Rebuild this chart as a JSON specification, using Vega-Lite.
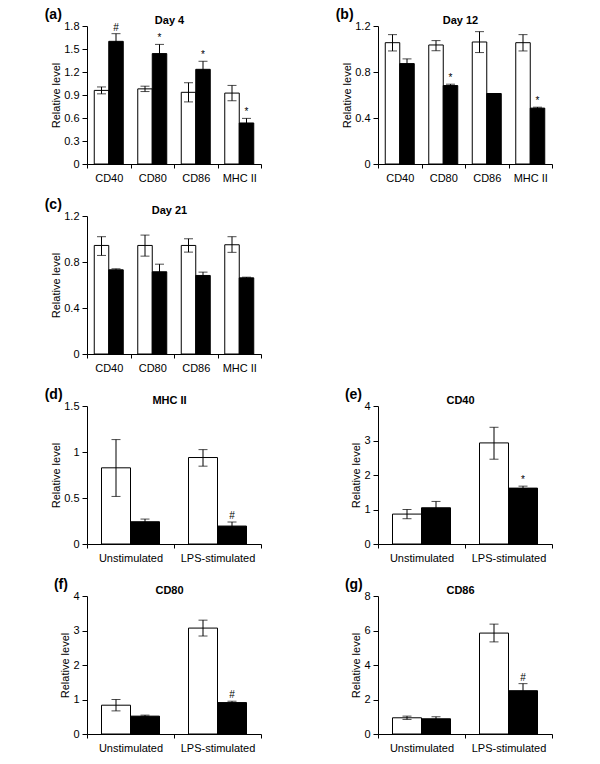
{
  "$schema": "https://vega.github.io/schema/vega-lite/v6.json",
  "padding": {"left": 44, "top": 8, "right": 5, "bottom": 5},
  "autosize": {"type": "pad"},
  "bounds": "flush",
  "columns": 2,
  "spacing": {"row": 52, "column": 117},
  "resolve": {"scale": {"xOffset": "independent"}},
  "data": {"values": [
    {"panel": "a", "cat": "CD40", "grp": "ctrl", "value": 0.96, "lo": 0.915, "hi": 1.005, "sig": ""},
    {"panel": "a", "cat": "CD40", "grp": "trt", "value": 1.6, "lo": 1.5, "hi": 1.7, "sig": "#"},
    {"panel": "a", "cat": "CD80", "grp": "ctrl", "value": 0.98, "lo": 0.945, "hi": 1.015, "sig": ""},
    {"panel": "a", "cat": "CD80", "grp": "trt", "value": 1.44, "lo": 1.32, "hi": 1.56, "sig": "*"},
    {"panel": "a", "cat": "CD86", "grp": "ctrl", "value": 0.935, "lo": 0.81, "hi": 1.06, "sig": ""},
    {"panel": "a", "cat": "CD86", "grp": "trt", "value": 1.235, "lo": 1.135, "hi": 1.34, "sig": "*"},
    {"panel": "a", "cat": "MHC II", "grp": "ctrl", "value": 0.925, "lo": 0.825, "hi": 1.025, "sig": ""},
    {"panel": "a", "cat": "MHC II", "grp": "trt", "value": 0.535, "lo": 0.475, "hi": 0.595, "sig": "*"},

    {"panel": "b", "cat": "CD40", "grp": "ctrl", "value": 1.055, "lo": 0.983, "hi": 1.125, "sig": ""},
    {"panel": "b", "cat": "CD40", "grp": "trt", "value": 0.873, "lo": 0.835, "hi": 0.914, "sig": ""},
    {"panel": "b", "cat": "CD80", "grp": "ctrl", "value": 1.035, "lo": 0.985, "hi": 1.073, "sig": ""},
    {"panel": "b", "cat": "CD80", "grp": "trt", "value": 0.682, "lo": 0.67, "hi": 0.694, "sig": "*"},
    {"panel": "b", "cat": "CD86", "grp": "ctrl", "value": 1.061, "lo": 0.969, "hi": 1.151, "sig": ""},
    {"panel": "b", "cat": "CD86", "grp": "trt", "value": 0.613, "lo": 0.613, "hi": 0.613, "sig": ""},
    {"panel": "b", "cat": "MHC II", "grp": "ctrl", "value": 1.055, "lo": 0.983, "hi": 1.125, "sig": ""},
    {"panel": "b", "cat": "MHC II", "grp": "trt", "value": 0.486, "lo": 0.478, "hi": 0.494, "sig": "*"},

    {"panel": "c", "cat": "CD40", "grp": "ctrl", "value": 0.944, "lo": 0.857, "hi": 1.02, "sig": ""},
    {"panel": "c", "cat": "CD40", "grp": "trt", "value": 0.732, "lo": 0.723, "hi": 0.741, "sig": ""},
    {"panel": "c", "cat": "CD80", "grp": "ctrl", "value": 0.944, "lo": 0.851, "hi": 1.034, "sig": ""},
    {"panel": "c", "cat": "CD80", "grp": "trt", "value": 0.715, "lo": 0.65, "hi": 0.781, "sig": ""},
    {"panel": "c", "cat": "CD86", "grp": "ctrl", "value": 0.944, "lo": 0.886, "hi": 1.002, "sig": ""},
    {"panel": "c", "cat": "CD86", "grp": "trt", "value": 0.683, "lo": 0.654, "hi": 0.712, "sig": ""},
    {"panel": "c", "cat": "MHC II", "grp": "ctrl", "value": 0.95, "lo": 0.884, "hi": 1.02, "sig": ""},
    {"panel": "c", "cat": "MHC II", "grp": "trt", "value": 0.662, "lo": 0.656, "hi": 0.668, "sig": ""},

    {"panel": "d", "cat": "Unstimulated", "grp": "ctrl", "value": 0.828, "lo": 0.517, "hi": 1.135, "sig": ""},
    {"panel": "d", "cat": "Unstimulated", "grp": "trt", "value": 0.242, "lo": 0.213, "hi": 0.271, "sig": ""},
    {"panel": "d", "cat": "LPS-stimulated", "grp": "ctrl", "value": 0.94, "lo": 0.846, "hi": 1.026, "sig": ""},
    {"panel": "d", "cat": "LPS-stimulated", "grp": "trt", "value": 0.195, "lo": 0.151, "hi": 0.239, "sig": "#"},

    {"panel": "e", "cat": "Unstimulated", "grp": "ctrl", "value": 0.867, "lo": 0.733, "hi": 1.0, "sig": ""},
    {"panel": "e", "cat": "Unstimulated", "grp": "trt", "value": 1.05, "lo": 0.87, "hi": 1.234, "sig": ""},
    {"panel": "e", "cat": "LPS-stimulated", "grp": "ctrl", "value": 2.93, "lo": 2.458, "hi": 3.383, "sig": ""},
    {"panel": "e", "cat": "LPS-stimulated", "grp": "trt", "value": 1.62, "lo": 1.563, "hi": 1.677, "sig": "*"},

    {"panel": "f", "cat": "Unstimulated", "grp": "ctrl", "value": 0.835, "lo": 0.67, "hi": 1.0, "sig": ""},
    {"panel": "f", "cat": "Unstimulated", "grp": "trt", "value": 0.518, "lo": 0.489, "hi": 0.547, "sig": ""},
    {"panel": "f", "cat": "LPS-stimulated", "grp": "ctrl", "value": 3.07, "lo": 2.84, "hi": 3.3, "sig": ""},
    {"panel": "f", "cat": "LPS-stimulated", "grp": "trt", "value": 0.911, "lo": 0.872, "hi": 0.95, "sig": "#"},

    {"panel": "g", "cat": "Unstimulated", "grp": "ctrl", "value": 0.94, "lo": 0.845, "hi": 1.036, "sig": ""},
    {"panel": "g", "cat": "Unstimulated", "grp": "trt", "value": 0.883, "lo": 0.77, "hi": 1.0, "sig": ""},
    {"panel": "g", "cat": "LPS-stimulated", "grp": "ctrl", "value": 5.85, "lo": 5.34, "hi": 6.37, "sig": ""},
    {"panel": "g", "cat": "LPS-stimulated", "grp": "trt", "value": 2.51, "lo": 2.12, "hi": 2.92, "sig": "#"}
  ]},
  "concat": [
    {
      "title": {"text": "(a)"},
      "width": 174, "height": 138,
      "resolve": {"axis": {"x": "independent"}},
      "transform": [{"filter": "datum.panel === 'a'"}],
      "encoding": {
        "x": {"field": "cat", "type": "nominal", "scale": {"domain": ["CD40", "CD80", "CD86", "MHC II"], "paddingInner": 0, "paddingOuter": 0}, "axis": null},
        "xOffset": {"field": "grp", "type": "nominal", "scale": {"domain": ["ctrl", "trt"], "range": [0, 43.5], "paddingInner": 0, "paddingOuter": 0.5}}
      },
      "layer": [
        {"mark": {"type": "bar", "stroke": "black", "strokeWidth": 1},
         "encoding": {
           "x": {"field": "cat", "type": "nominal", "scale": {"domain": ["CD40", "CD80", "CD86", "MHC II"], "paddingInner": 0, "paddingOuter": 0}, "axis": {"orient": "bottom", "title": null, "tickBand": "extent", "labelAngle": 0}},
           "y": {"field": "value", "type": "quantitative", "scale": {"domain": [0, 1.8]}, "axis": {"title": "Relative level", "values": [0, 0.3, 0.6, 0.9, 1.2, 1.5, 1.8], "labelExpr": "toString(datum.value)"}},
           "fill": {"field": "grp", "type": "nominal", "scale": {"domain": ["ctrl", "trt"], "range": ["white", "black"]}, "legend": null}}},
        {"mark": {"type": "rule", "color": "black", "strokeWidth": 1},
         "encoding": {
           "x": {"field": "cat", "type": "nominal", "scale": {"domain": ["CD40", "CD80", "CD86", "MHC II"], "paddingInner": 0, "paddingOuter": 0}, "axis": {"orient": "top", "title": "Day 4", "labels": false, "ticks": false, "domain": false, "titleFontWeight": "bold", "titlePadding": 1, "titleX": 82}},
           "y": {"field": "lo", "type": "quantitative", "scale": {"domain": [0, 1.8]}, "axis": {"title": "Relative level", "values": [0, 0.3, 0.6, 0.9, 1.2, 1.5, 1.8], "labelExpr": "toString(datum.value)"}},
           "y2": {"field": "hi"}}},
        {"mark": {"type": "tick", "color": "black", "size": 9, "thickness": 1},
         "encoding": {"y": {"field": "hi", "type": "quantitative", "scale": {"domain": [0, 1.8]}, "axis": {"title": "Relative level", "values": [0, 0.3, 0.6, 0.9, 1.2, 1.5, 1.8], "labelExpr": "toString(datum.value)"}}}},
        {"mark": {"type": "tick", "color": "black", "size": 9, "thickness": 1},
         "encoding": {"y": {"field": "lo", "type": "quantitative", "scale": {"domain": [0, 1.8]}, "axis": {"title": "Relative level", "values": [0, 0.3, 0.6, 0.9, 1.2, 1.5, 1.8], "labelExpr": "toString(datum.value)"}}}},
        {"mark": {"type": "text", "dy": -3, "baseline": "alphabetic", "fontSize": 10, "color": "black", "fill": "black"},
         "encoding": {"y": {"field": "hi", "type": "quantitative", "scale": {"domain": [0, 1.8]}, "axis": {"title": "Relative level", "values": [0, 0.3, 0.6, 0.9, 1.2, 1.5, 1.8], "labelExpr": "toString(datum.value)"}}, "text": {"field": "sig"}}}
      ]
    },
    {
      "title": {"text": "(b)"},
      "width": 174, "height": 138,
      "resolve": {"axis": {"x": "independent"}},
      "transform": [{"filter": "datum.panel === 'b'"}],
      "encoding": {
        "x": {"field": "cat", "type": "nominal", "scale": {"domain": ["CD40", "CD80", "CD86", "MHC II"], "paddingInner": 0, "paddingOuter": 0}, "axis": null},
        "xOffset": {"field": "grp", "type": "nominal", "scale": {"domain": ["ctrl", "trt"], "range": [0, 43.5], "paddingInner": 0, "paddingOuter": 0.5}}
      },
      "layer": [
        {"mark": {"type": "bar", "stroke": "black", "strokeWidth": 1},
         "encoding": {
           "x": {"field": "cat", "type": "nominal", "scale": {"domain": ["CD40", "CD80", "CD86", "MHC II"], "paddingInner": 0, "paddingOuter": 0}, "axis": {"orient": "bottom", "title": null, "tickBand": "extent", "labelAngle": 0}},
           "y": {"field": "value", "type": "quantitative", "scale": {"domain": [0, 1.2]}, "axis": {"title": "Relative level", "values": [0, 0.4, 0.8, 1.2], "labelExpr": "toString(datum.value)"}},
           "fill": {"field": "grp", "type": "nominal", "scale": {"domain": ["ctrl", "trt"], "range": ["white", "black"]}, "legend": null}}},
        {"mark": {"type": "rule", "color": "black", "strokeWidth": 1},
         "encoding": {
           "x": {"field": "cat", "type": "nominal", "scale": {"domain": ["CD40", "CD80", "CD86", "MHC II"], "paddingInner": 0, "paddingOuter": 0}, "axis": {"orient": "top", "title": "Day 12", "labels": false, "ticks": false, "domain": false, "titleFontWeight": "bold", "titlePadding": 1, "titleX": 82}},
           "y": {"field": "lo", "type": "quantitative", "scale": {"domain": [0, 1.2]}, "axis": {"title": "Relative level", "values": [0, 0.4, 0.8, 1.2], "labelExpr": "toString(datum.value)"}},
           "y2": {"field": "hi"}}},
        {"mark": {"type": "tick", "color": "black", "size": 9, "thickness": 1},
         "encoding": {"y": {"field": "hi", "type": "quantitative", "scale": {"domain": [0, 1.2]}, "axis": {"title": "Relative level", "values": [0, 0.4, 0.8, 1.2], "labelExpr": "toString(datum.value)"}}}},
        {"mark": {"type": "tick", "color": "black", "size": 9, "thickness": 1},
         "encoding": {"y": {"field": "lo", "type": "quantitative", "scale": {"domain": [0, 1.2]}, "axis": {"title": "Relative level", "values": [0, 0.4, 0.8, 1.2], "labelExpr": "toString(datum.value)"}}}},
        {"mark": {"type": "text", "dy": -3, "baseline": "alphabetic", "fontSize": 10, "color": "black", "fill": "black"},
         "encoding": {"y": {"field": "hi", "type": "quantitative", "scale": {"domain": [0, 1.2]}, "axis": {"title": "Relative level", "values": [0, 0.4, 0.8, 1.2], "labelExpr": "toString(datum.value)"}}, "text": {"field": "sig"}}}
      ]
    },
    {
      "title": {"text": "(c)"},
      "width": 174, "height": 138,
      "resolve": {"axis": {"x": "independent"}},
      "transform": [{"filter": "datum.panel === 'c'"}],
      "encoding": {
        "x": {"field": "cat", "type": "nominal", "scale": {"domain": ["CD40", "CD80", "CD86", "MHC II"], "paddingInner": 0, "paddingOuter": 0}, "axis": null},
        "xOffset": {"field": "grp", "type": "nominal", "scale": {"domain": ["ctrl", "trt"], "range": [0, 43.5], "paddingInner": 0, "paddingOuter": 0.5}}
      },
      "layer": [
        {"mark": {"type": "bar", "stroke": "black", "strokeWidth": 1},
         "encoding": {
           "x": {"field": "cat", "type": "nominal", "scale": {"domain": ["CD40", "CD80", "CD86", "MHC II"], "paddingInner": 0, "paddingOuter": 0}, "axis": {"orient": "bottom", "title": null, "tickBand": "extent", "labelAngle": 0}},
           "y": {"field": "value", "type": "quantitative", "scale": {"domain": [0, 1.2]}, "axis": {"title": "Relative level", "values": [0, 0.4, 0.8, 1.2], "labelExpr": "toString(datum.value)"}},
           "fill": {"field": "grp", "type": "nominal", "scale": {"domain": ["ctrl", "trt"], "range": ["white", "black"]}, "legend": null}}},
        {"mark": {"type": "rule", "color": "black", "strokeWidth": 1},
         "encoding": {
           "x": {"field": "cat", "type": "nominal", "scale": {"domain": ["CD40", "CD80", "CD86", "MHC II"], "paddingInner": 0, "paddingOuter": 0}, "axis": {"orient": "top", "title": "Day 21", "labels": false, "ticks": false, "domain": false, "titleFontWeight": "bold", "titlePadding": 1, "titleX": 82}},
           "y": {"field": "lo", "type": "quantitative", "scale": {"domain": [0, 1.2]}, "axis": {"title": "Relative level", "values": [0, 0.4, 0.8, 1.2], "labelExpr": "toString(datum.value)"}},
           "y2": {"field": "hi"}}},
        {"mark": {"type": "tick", "color": "black", "size": 9, "thickness": 1},
         "encoding": {"y": {"field": "hi", "type": "quantitative", "scale": {"domain": [0, 1.2]}, "axis": {"title": "Relative level", "values": [0, 0.4, 0.8, 1.2], "labelExpr": "toString(datum.value)"}}}},
        {"mark": {"type": "tick", "color": "black", "size": 9, "thickness": 1},
         "encoding": {"y": {"field": "lo", "type": "quantitative", "scale": {"domain": [0, 1.2]}, "axis": {"title": "Relative level", "values": [0, 0.4, 0.8, 1.2], "labelExpr": "toString(datum.value)"}}}}
      ]
    },
    {
      "width": 174, "height": 138,
      "data": {"values": []},
      "mark": "point"
    },
    {
      "title": {"text": "(d)"},
      "width": 174, "height": 138,
      "resolve": {"axis": {"x": "independent"}},
      "transform": [{"filter": "datum.panel === 'd'"}],
      "encoding": {
        "x": {"field": "cat", "type": "nominal", "scale": {"domain": ["Unstimulated", "LPS-stimulated"], "paddingInner": 0, "paddingOuter": 0}, "axis": null},
        "xOffset": {"field": "grp", "type": "nominal", "scale": {"domain": ["ctrl", "trt"], "range": [0, 87], "paddingInner": 0, "paddingOuter": 0.5}}
      },
      "layer": [
        {"mark": {"type": "bar", "stroke": "black", "strokeWidth": 1},
         "encoding": {
           "x": {"field": "cat", "type": "nominal", "scale": {"domain": ["Unstimulated", "LPS-stimulated"], "paddingInner": 0, "paddingOuter": 0}, "axis": {"orient": "bottom", "title": null, "tickBand": "extent", "labelAngle": 0}},
           "y": {"field": "value", "type": "quantitative", "scale": {"domain": [0, 1.5]}, "axis": {"title": "Relative level", "values": [0, 0.5, 1, 1.5], "labelExpr": "toString(datum.value)"}},
           "fill": {"field": "grp", "type": "nominal", "scale": {"domain": ["ctrl", "trt"], "range": ["white", "black"]}, "legend": null}}},
        {"mark": {"type": "rule", "color": "black", "strokeWidth": 1},
         "encoding": {
           "x": {"field": "cat", "type": "nominal", "scale": {"domain": ["Unstimulated", "LPS-stimulated"], "paddingInner": 0, "paddingOuter": 0}, "axis": {"orient": "top", "title": "MHC II", "labels": false, "ticks": false, "domain": false, "titleFontWeight": "bold", "titlePadding": 1, "titleX": 82}},
           "y": {"field": "lo", "type": "quantitative", "scale": {"domain": [0, 1.5]}, "axis": {"title": "Relative level", "values": [0, 0.5, 1, 1.5], "labelExpr": "toString(datum.value)"}},
           "y2": {"field": "hi"}}},
        {"mark": {"type": "tick", "color": "black", "size": 9, "thickness": 1},
         "encoding": {"y": {"field": "hi", "type": "quantitative", "scale": {"domain": [0, 1.5]}, "axis": {"title": "Relative level", "values": [0, 0.5, 1, 1.5], "labelExpr": "toString(datum.value)"}}}},
        {"mark": {"type": "tick", "color": "black", "size": 9, "thickness": 1},
         "encoding": {"y": {"field": "lo", "type": "quantitative", "scale": {"domain": [0, 1.5]}, "axis": {"title": "Relative level", "values": [0, 0.5, 1, 1.5], "labelExpr": "toString(datum.value)"}}}},
        {"mark": {"type": "text", "dy": -3, "baseline": "alphabetic", "fontSize": 10, "color": "black", "fill": "black"},
         "encoding": {"y": {"field": "hi", "type": "quantitative", "scale": {"domain": [0, 1.5]}, "axis": {"title": "Relative level", "values": [0, 0.5, 1, 1.5], "labelExpr": "toString(datum.value)"}}, "text": {"field": "sig"}}}
      ]
    },
    {
      "title": {"text": "(e)"},
      "width": 174, "height": 138,
      "resolve": {"axis": {"x": "independent"}},
      "transform": [{"filter": "datum.panel === 'e'"}],
      "encoding": {
        "x": {"field": "cat", "type": "nominal", "scale": {"domain": ["Unstimulated", "LPS-stimulated"], "paddingInner": 0, "paddingOuter": 0}, "axis": null},
        "xOffset": {"field": "grp", "type": "nominal", "scale": {"domain": ["ctrl", "trt"], "range": [0, 87], "paddingInner": 0, "paddingOuter": 0.5}}
      },
      "layer": [
        {"mark": {"type": "bar", "stroke": "black", "strokeWidth": 1},
         "encoding": {
           "x": {"field": "cat", "type": "nominal", "scale": {"domain": ["Unstimulated", "LPS-stimulated"], "paddingInner": 0, "paddingOuter": 0}, "axis": {"orient": "bottom", "title": null, "tickBand": "extent", "labelAngle": 0}},
           "y": {"field": "value", "type": "quantitative", "scale": {"domain": [0, 4]}, "axis": {"title": "Relative level", "values": [0, 1, 2, 3, 4], "labelExpr": "toString(datum.value)"}},
           "fill": {"field": "grp", "type": "nominal", "scale": {"domain": ["ctrl", "trt"], "range": ["white", "black"]}, "legend": null}}},
        {"mark": {"type": "rule", "color": "black", "strokeWidth": 1},
         "encoding": {
           "x": {"field": "cat", "type": "nominal", "scale": {"domain": ["Unstimulated", "LPS-stimulated"], "paddingInner": 0, "paddingOuter": 0}, "axis": {"orient": "top", "title": "CD40", "labels": false, "ticks": false, "domain": false, "titleFontWeight": "bold", "titlePadding": 1, "titleX": 82}},
           "y": {"field": "lo", "type": "quantitative", "scale": {"domain": [0, 4]}, "axis": {"title": "Relative level", "values": [0, 1, 2, 3, 4], "labelExpr": "toString(datum.value)"}},
           "y2": {"field": "hi"}}},
        {"mark": {"type": "tick", "color": "black", "size": 9, "thickness": 1},
         "encoding": {"y": {"field": "hi", "type": "quantitative", "scale": {"domain": [0, 4]}, "axis": {"title": "Relative level", "values": [0, 1, 2, 3, 4], "labelExpr": "toString(datum.value)"}}}},
        {"mark": {"type": "tick", "color": "black", "size": 9, "thickness": 1},
         "encoding": {"y": {"field": "lo", "type": "quantitative", "scale": {"domain": [0, 4]}, "axis": {"title": "Relative level", "values": [0, 1, 2, 3, 4], "labelExpr": "toString(datum.value)"}}}},
        {"mark": {"type": "text", "dy": -3, "baseline": "alphabetic", "fontSize": 10, "color": "black", "fill": "black"},
         "encoding": {"y": {"field": "hi", "type": "quantitative", "scale": {"domain": [0, 4]}, "axis": {"title": "Relative level", "values": [0, 1, 2, 3, 4], "labelExpr": "toString(datum.value)"}}, "text": {"field": "sig"}}}
      ]
    },
    {
      "title": {"text": "(f)"},
      "width": 174, "height": 138,
      "resolve": {"axis": {"x": "independent"}},
      "transform": [{"filter": "datum.panel === 'f'"}],
      "encoding": {
        "x": {"field": "cat", "type": "nominal", "scale": {"domain": ["Unstimulated", "LPS-stimulated"], "paddingInner": 0, "paddingOuter": 0}, "axis": null},
        "xOffset": {"field": "grp", "type": "nominal", "scale": {"domain": ["ctrl", "trt"], "range": [0, 87], "paddingInner": 0, "paddingOuter": 0.5}}
      },
      "layer": [
        {"mark": {"type": "bar", "stroke": "black", "strokeWidth": 1},
         "encoding": {
           "x": {"field": "cat", "type": "nominal", "scale": {"domain": ["Unstimulated", "LPS-stimulated"], "paddingInner": 0, "paddingOuter": 0}, "axis": {"orient": "bottom", "title": null, "tickBand": "extent", "labelAngle": 0}},
           "y": {"field": "value", "type": "quantitative", "scale": {"domain": [0, 4]}, "axis": {"title": "Relative level", "values": [0, 1, 2, 3, 4], "labelExpr": "toString(datum.value)"}},
           "fill": {"field": "grp", "type": "nominal", "scale": {"domain": ["ctrl", "trt"], "range": ["white", "black"]}, "legend": null}}},
        {"mark": {"type": "rule", "color": "black", "strokeWidth": 1},
         "encoding": {
           "x": {"field": "cat", "type": "nominal", "scale": {"domain": ["Unstimulated", "LPS-stimulated"], "paddingInner": 0, "paddingOuter": 0}, "axis": {"orient": "top", "title": "CD80", "labels": false, "ticks": false, "domain": false, "titleFontWeight": "bold", "titlePadding": 1, "titleX": 82}},
           "y": {"field": "lo", "type": "quantitative", "scale": {"domain": [0, 4]}, "axis": {"title": "Relative level", "values": [0, 1, 2, 3, 4], "labelExpr": "toString(datum.value)"}},
           "y2": {"field": "hi"}}},
        {"mark": {"type": "tick", "color": "black", "size": 9, "thickness": 1},
         "encoding": {"y": {"field": "hi", "type": "quantitative", "scale": {"domain": [0, 4]}, "axis": {"title": "Relative level", "values": [0, 1, 2, 3, 4], "labelExpr": "toString(datum.value)"}}}},
        {"mark": {"type": "tick", "color": "black", "size": 9, "thickness": 1},
         "encoding": {"y": {"field": "lo", "type": "quantitative", "scale": {"domain": [0, 4]}, "axis": {"title": "Relative level", "values": [0, 1, 2, 3, 4], "labelExpr": "toString(datum.value)"}}}},
        {"mark": {"type": "text", "dy": -3, "baseline": "alphabetic", "fontSize": 10, "color": "black", "fill": "black"},
         "encoding": {"y": {"field": "hi", "type": "quantitative", "scale": {"domain": [0, 4]}, "axis": {"title": "Relative level", "values": [0, 1, 2, 3, 4], "labelExpr": "toString(datum.value)"}}, "text": {"field": "sig"}}}
      ]
    },
    {
      "title": {"text": "(g)"},
      "width": 174, "height": 138,
      "resolve": {"axis": {"x": "independent"}},
      "transform": [{"filter": "datum.panel === 'g'"}],
      "encoding": {
        "x": {"field": "cat", "type": "nominal", "scale": {"domain": ["Unstimulated", "LPS-stimulated"], "paddingInner": 0, "paddingOuter": 0}, "axis": null},
        "xOffset": {"field": "grp", "type": "nominal", "scale": {"domain": ["ctrl", "trt"], "range": [0, 87], "paddingInner": 0, "paddingOuter": 0.5}}
      },
      "layer": [
        {"mark": {"type": "bar", "stroke": "black", "strokeWidth": 1},
         "encoding": {
           "x": {"field": "cat", "type": "nominal", "scale": {"domain": ["Unstimulated", "LPS-stimulated"], "paddingInner": 0, "paddingOuter": 0}, "axis": {"orient": "bottom", "title": null, "tickBand": "extent", "labelAngle": 0}},
           "y": {"field": "value", "type": "quantitative", "scale": {"domain": [0, 8]}, "axis": {"title": "Relative level", "values": [0, 2, 4, 6, 8], "labelExpr": "toString(datum.value)"}},
           "fill": {"field": "grp", "type": "nominal", "scale": {"domain": ["ctrl", "trt"], "range": ["white", "black"]}, "legend": null}}},
        {"mark": {"type": "rule", "color": "black", "strokeWidth": 1},
         "encoding": {
           "x": {"field": "cat", "type": "nominal", "scale": {"domain": ["Unstimulated", "LPS-stimulated"], "paddingInner": 0, "paddingOuter": 0}, "axis": {"orient": "top", "title": "CD86", "labels": false, "ticks": false, "domain": false, "titleFontWeight": "bold", "titlePadding": 1, "titleX": 82}},
           "y": {"field": "lo", "type": "quantitative", "scale": {"domain": [0, 8]}, "axis": {"title": "Relative level", "values": [0, 2, 4, 6, 8], "labelExpr": "toString(datum.value)"}},
           "y2": {"field": "hi"}}},
        {"mark": {"type": "tick", "color": "black", "size": 9, "thickness": 1},
         "encoding": {"y": {"field": "hi", "type": "quantitative", "scale": {"domain": [0, 8]}, "axis": {"title": "Relative level", "values": [0, 2, 4, 6, 8], "labelExpr": "toString(datum.value)"}}}},
        {"mark": {"type": "tick", "color": "black", "size": 9, "thickness": 1},
         "encoding": {"y": {"field": "lo", "type": "quantitative", "scale": {"domain": [0, 8]}, "axis": {"title": "Relative level", "values": [0, 2, 4, 6, 8], "labelExpr": "toString(datum.value)"}}}},
        {"mark": {"type": "text", "dy": -3, "baseline": "alphabetic", "fontSize": 10, "color": "black", "fill": "black"},
         "encoding": {"y": {"field": "hi", "type": "quantitative", "scale": {"domain": [0, 8]}, "axis": {"title": "Relative level", "values": [0, 2, 4, 6, 8], "labelExpr": "toString(datum.value)"}}, "text": {"field": "sig"}}}
      ]
    }
  ],
  "config": {
    "font": "Liberation Sans",
    "background": "white",
    "view": {"stroke": null},
    "axis": {"domainColor": "black", "tickColor": "black", "labelColor": "black", "titleColor": "black", "grid": false, "labelFontSize": 11, "titleFontSize": 11, "titleFontWeight": "normal", "labelFontWeight": "normal", "tickSize": 4, "domainWidth": 1, "tickWidth": 1},
    "axisX": {"labelPadding": 4},
    "axisY": {"labelPadding": 3, "titlePadding": 2, "tickSize": 5},
    "title": {"anchor": "start", "frame": "bounds", "fontSize": 14, "fontWeight": "bold", "color": "black", "offset": 0, "dx": -6, "dy": 12}
  }
}
